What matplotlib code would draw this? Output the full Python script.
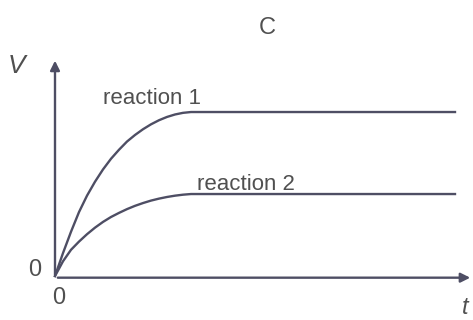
import matplotlib.pyplot as plt

# time values and volume readings for both curves
t = [0, 0.2, 0.4, 0.6, 0.8, 1.0, 1.2, 1.4, 1.6, 1.8, 2.0, 2.2, 2.4, 2.6, 2.8, 3.0, 3.2, 3.4, 10.0]
reaction_1 = [0, 1.4, 2.7, 3.9, 4.9, 5.75, 6.5, 7.15, 7.7, 8.2, 8.6, 8.95, 9.25, 9.5,
              9.7, 9.85, 9.95, 10.0, 10.0]
reaction_2 = [0, 0.9, 1.6, 2.1, 2.55, 2.95, 3.3, 3.6, 3.85, 4.08, 4.28, 4.45, 4.6, 4.72,
              4.82, 4.9, 4.96, 5.0, 5.0]

line_color = '#4e4e64'
text_color = '#505050'

fig = plt.figure(figsize=(4.73, 3.2), dpi=100)
ax = fig.add_axes([0, 0, 1, 1])
ax.set_xlim(-1.375, 10.45)
ax.set_ylim(-2.68, 16.83)
ax.set_axis_off()

ax.plot(t, reaction_1, color=line_color, lw=1.7)
ax.plot(t, reaction_2, color=line_color, lw=1.7)

# axes with arrow heads
ax.annotate('', xy=(10.45, -0.1), xytext=(0, -0.1),
            arrowprops=dict(arrowstyle='-|>', color=line_color, lw=1.7, mutation_scale=14))
ax.annotate('', xy=(0, 13.3), xytext=(0, -0.1),
            arrowprops=dict(arrowstyle='-|>', color=line_color, lw=1.7, mutation_scale=14))

font = 'Liberation Sans'
ax.text(5.3, 15.1, 'C', ha='center', va='center', fontsize=17, color=text_color, family=font)
ax.text(-0.95, 12.8, 'V', ha='center', va='center', fontsize=19, style='italic', color=text_color, family=font)
ax.text(1.2, 10.8, 'reaction 1', ha='left', va='center', fontsize=16, color=text_color, family=font)
ax.text(3.55, 5.6, 'reaction 2', ha='left', va='center', fontsize=16, color=text_color, family=font)
ax.text(-0.35, 0.35, '0', ha='right', va='center', fontsize=17, color=text_color, family=font)
ax.text(0.1, -1.35, '0', ha='center', va='center', fontsize=17, color=text_color, family=font)
ax.text(10.25, -1.9, 't', ha='center', va='center', fontsize=17, style='italic', color=text_color, family=font)

fig.savefig('out.png', dpi=100)
